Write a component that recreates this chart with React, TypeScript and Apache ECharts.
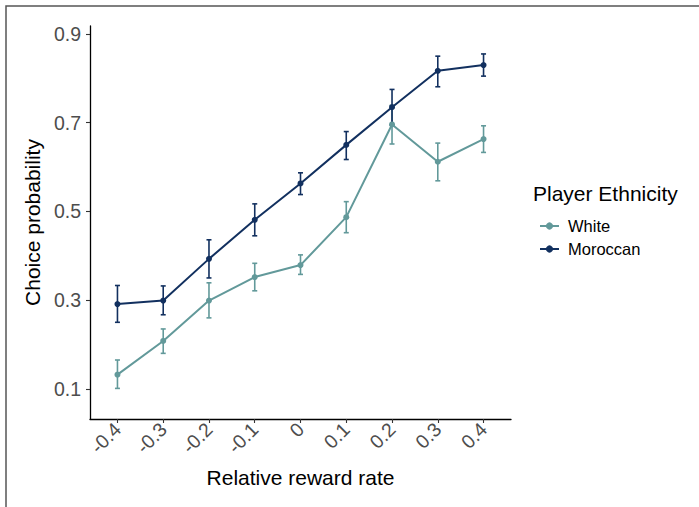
import React, { useEffect, useRef } from "react";
import * as echarts from "echarts";

const xValues = [-0.4, -0.3, -0.2, -0.1, 0, 0.1, 0.2, 0.3, 0.4];
const xTickLabels = ["-0.4", "-0.3", "-0.2", "-0.1", "0", "0.1", "0.2", "0.3", "0.4"];
const yTicks = [0.1, 0.3, 0.5, 0.7, 0.9];

const whiteMean = [0.132, 0.208, 0.299, 0.352, 0.379, 0.487, 0.696, 0.612, 0.663];
const whiteLow = [0.101, 0.18, 0.26, 0.321, 0.358, 0.452, 0.652, 0.569, 0.633];
const whiteHigh = [0.165, 0.235, 0.339, 0.383, 0.402, 0.522, 0.739, 0.654, 0.693];

const morMean = [0.291, 0.299, 0.393, 0.481, 0.563, 0.65, 0.735, 0.817, 0.83];
const morLow = [0.25, 0.267, 0.35, 0.445, 0.538, 0.617, 0.695, 0.781, 0.805];
const morHigh = [0.333, 0.332, 0.436, 0.517, 0.587, 0.68, 0.775, 0.85, 0.855];

const WHITE_COLOR = "#62999a";
const MOR_COLOR = "#12305f";
const FONT = "Liberation Sans";

function errorSeries(name: string, low: number[], high: number[], color: string) {
  return {
    type: "custom",
    name: name + "-err",
    data: xValues.map((x, i) => [x, low[i], high[i]]),
    encode: { x: 0, y: [1, 2] },
    renderItem: (params: any, api: any) => {
      const x = api.value(0);
      const lo = api.coord([x, api.value(1)]);
      const hi = api.coord([x, api.value(2)]);
      const cap = 2.5;
      const style = { stroke: color, lineWidth: 1.6 };
      return {
        type: "group",
        children: [
          { type: "line", shape: { x1: lo[0], y1: lo[1], x2: hi[0], y2: hi[1] }, style },
          { type: "line", shape: { x1: hi[0] - cap, y1: hi[1], x2: hi[0] + cap, y2: hi[1] }, style },
          { type: "line", shape: { x1: lo[0] - cap, y1: lo[1], x2: lo[0] + cap, y2: lo[1] }, style },
        ],
      };
    },
    z: 2,
  };
}

export default function App() {
  const ref = useRef<HTMLDivElement>(null);
  useEffect(() => {
    if (!ref.current) return;
    const chart = echarts.init(ref.current, undefined, { renderer: "svg" });
    chart.setOption({
      animation: false,
      backgroundColor: "#ffffff",
      textStyle: { fontFamily: FONT },
      grid: { left: 90, top: 26, right: 188, bottom: 88, containLabel: false },
      xAxis: {
        type: "value",
        min: -0.46,
        max: 0.46,
        name: "Relative reward rate",
        nameLocation: "middle",
        nameGap: 48,
        nameTextStyle: { fontSize: 21, color: "#000", fontFamily: FONT },
        splitLine: { show: false },
        axisLine: { show: true, onZero: false, lineStyle: { color: "#000", width: 1.3 } },
        axisTick: { show: true, length: 4, lineStyle: { color: "#333", width: 1.1 }, customValues: xValues },
        axisLabel: {
          customValues: xValues,
          rotate: 45,
          margin: 7,
          fontSize: 19.5,
          color: "#4d4d4d",
          fontFamily: FONT,
          formatter: (v: number) => {
            const idx = xValues.findIndex((x) => Math.abs(x - v) < 1e-6);
            return idx >= 0 ? xTickLabels[idx] : "";
          },
        },
      },
      yAxis: {
        type: "value",
        min: 0.032,
        max: 0.918,
        name: "Choice probability",
        nameLocation: "middle",
        nameGap: 41,
        nameTextStyle: { fontSize: 21, color: "#000", fontFamily: FONT },
        splitLine: { show: false },
        axisLine: { show: true, onZero: false, lineStyle: { color: "#000", width: 1.3 } },
        axisTick: { show: true, length: 4, lineStyle: { color: "#333", width: 1.1 }, customValues: yTicks },
        axisLabel: {
          customValues: yTicks,
          margin: 9,
          fontSize: 19.5,
          color: "#4d4d4d",
          fontFamily: FONT,
          formatter: (v: number) => v.toFixed(1),
        },
      },
      legend: {
        data: ["White", "Moroccan"],
        orient: "vertical",
        left: 534,
        top: 212,
        itemWidth: 19,
        itemHeight: 9,
        itemGap: 5,
        textStyle: { fontSize: 16.5, lineHeight: 18, color: "#000", fontFamily: FONT, padding: [0, 0, 0, 4] },
      },
      graphic: [
        {
          type: "rect",
          shape: { x: 6, y: 6, width: 800, height: 600 },
          style: { fill: "none", stroke: "#555", lineWidth: 1.5 },
          silent: true,
        },
        {
          type: "text",
          left: 533,
          top: 183,
          style: { text: "Player Ethnicity", fontSize: 21, fill: "#000", fontFamily: FONT },
        },
      ],
      series: [
        errorSeries("White", whiteLow, whiteHigh, WHITE_COLOR),
        {
          type: "line",
          name: "White",
          data: xValues.map((x, i) => [x, whiteMean[i]]),
          symbol: "circle",
          symbolSize: 6,
          itemStyle: { color: WHITE_COLOR },
          lineStyle: { color: WHITE_COLOR, width: 2 },
          z: 3,
        },
        errorSeries("Moroccan", morLow, morHigh, MOR_COLOR),
        {
          type: "line",
          name: "Moroccan",
          data: xValues.map((x, i) => [x, morMean[i]]),
          symbol: "circle",
          symbolSize: 6,
          itemStyle: { color: MOR_COLOR },
          lineStyle: { color: MOR_COLOR, width: 2 },
          z: 4,
        },
      ],
    });
    return () => chart.dispose();
  }, []);
  return (
    <div
      ref={ref}
      style={{ position: "fixed", left: 0, top: 0, width: 699, height: 507 }}
    />
  );
}
